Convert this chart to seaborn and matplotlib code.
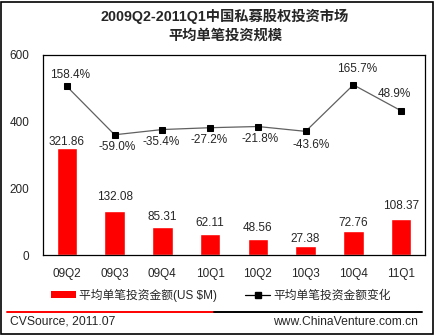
import numpy as np
import pandas as pd
import matplotlib
matplotlib.use("Agg")
import matplotlib.pyplot as plt
import seaborn as sns
from matplotlib.lines import Line2D
from matplotlib.patches import Rectangle, Patch

quarters = ["09Q2", "09Q3", "09Q4", "10Q1", "10Q2", "10Q3", "10Q4", "11Q1"]
avg_amount = [321.86, 132.08, 85.31, 62.11, 48.56, 27.38, 72.76, 108.37]
pct_change = [158.4, -59.0, -35.4, -27.2, -21.8, -43.6, 165.7, 48.9]
pct_labels = ["158.4%", "-59.0%", "-35.4%", "-27.2%", "-21.8%", "-43.6%", "165.7%", "48.9%"]
yticks = [0, 200, 400, 600]
title_lines = ["2009Q2-2011Q1中国私募股权投资市场", "平均单笔投资规模"]
bar_name = "平均单笔投资金额(US $M)"
line_name = "平均单笔投资金额变化"

sns.set_theme(style="white")
plt.rcParams['font.family'] = ['Liberation Sans', 'Noto Sans CJK SC', 'DejaVu Sans']

W, H = 435, 335
fig = plt.figure(figsize=(W / 100, H / 100), dpi=100)
ax = fig.add_axes([43 / W, 1 - 255 / H, (425 - 43) / W, 200 / H])

df = pd.DataFrame({"q": quarters, "v": avg_amount})
sns.barplot(data=df, x="q", y="v", ax=ax, color="#ff0000", saturation=1, width=0.43)
ax.set_ylim(0, 600)
ax.set_xlim(-0.5, 7.5)
ax.set_yticks(yticks)
ax.set_yticklabels([str(t) for t in yticks], fontsize=8.5)
ax.set_xlabel("")
ax.set_ylabel("")
ax.tick_params(axis='x', labelsize=8.5, pad=9, length=0)
ax.tick_params(axis='y', pad=10, length=0)
for s in ax.spines.values():
    s.set_color("black")
    s.set_linewidth(0.9)

bar_off = [6, 14, 10, 11, 11, 7, 8, 13]
for i, v in enumerate(avg_amount):
    ax.annotate(f"{v:.2f}", (i, v), xytext=(0, bar_off[i]), textcoords="offset pixels",
                ha="center", va="center", fontsize=8.5)

ax2 = ax.twinx()
sns.lineplot(x=np.arange(len(quarters)), y=pct_change, ax=ax2, color="#606060",
             linewidth=0.9, marker="s", markersize=5, markerfacecolor="black",
             markeredgecolor="black")
ax2.set_ylim(-600, 300)
ax2.set_xlim(-0.5, 7.5)
ax2.set_yticks([])
ax2.set_ylabel("")
for s in ax2.spines.values():
    s.set_visible(False)

pct_off = [(3, 11), (3, -12), (-1, -12), (-1, -12), (2, -12), (6, -14), (4, 16), (-7, 17)]
for i, (p, lab) in enumerate(zip(pct_change, pct_labels)):
    dx, dy = pct_off[i]
    ax2.annotate(lab, (i, p), xytext=(dx, dy), textcoords="offset pixels",
                 ha="center", va="center", fontsize=8.5)

fig.text(225 / W, 1 - 16 / H, title_lines[0], ha="center", va="center", fontsize=10.3,
         fontweight="bold")
fig.text(225 / W, 1 - 36 / H, title_lines[1], ha="center", va="center", fontsize=10.3,
         fontweight="bold")

handles = [Patch(facecolor="#ff0000", edgecolor="none"),
           Line2D([], [], color="black", marker="s", markersize=4, linewidth=0.9)]
fig.legend(handles, [bar_name, line_name], loc="center", ncol=2,
           bbox_to_anchor=(221 / W, 1 - 295 / H), frameon=False, fontsize=8.5,
           handlelength=2.1, handleheight=0.45, columnspacing=2.4, handletextpad=0.25,
           borderpad=0, borderaxespad=0)

y_sep = 1 - 312 / H
fig.add_artist(Line2D([7 / W, 214 / W], [y_sep, y_sep], color="#ff0000", linewidth=1.4))
fig.add_artist(Line2D([214 / W, 422 / W], [y_sep, y_sep], color="black", linewidth=1.4))
fig.text(10 / W, 1 - 322 / H, "CVSource, 2011.07", ha="left", va="center", fontsize=8.7)
fig.text(418 / W, 1 - 322 / H, "www.ChinaVenture.com.cn", ha="right", va="center", fontsize=8.7)
fig.add_artist(Rectangle((1.5 / W, 1.5 / H), (W - 3) / W, (H - 3) / H, transform=fig.transFigure,
                         fill=False, edgecolor="black", linewidth=1.2))

fig.savefig("out.png", dpi=100)
